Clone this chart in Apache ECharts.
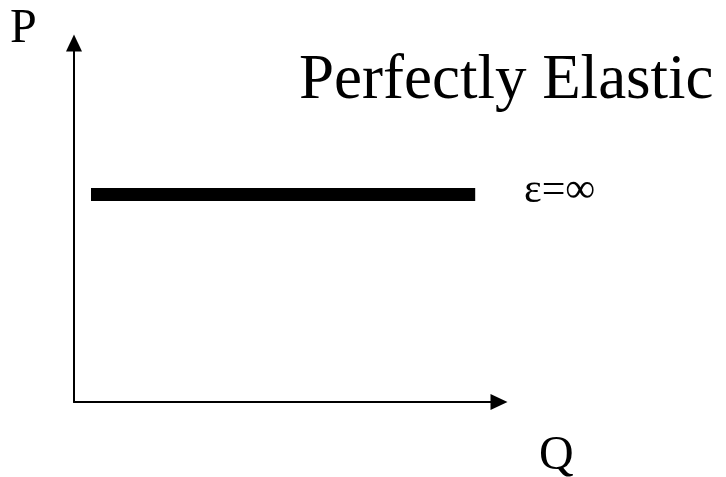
<!DOCTYPE html>
<html>
<head>
<meta charset="utf-8">
<script src="https://cdn.jsdelivr.net/npm/echarts@6/dist/echarts.min.js"></script>
<style>
  html, body { margin: 0; padding: 0; background: #fff; }
  #chart { width: 726px; height: 477px; }
</style>
</head>
<body>
<div id="chart"></div>
<script>
// Demand curve endpoints (quantity, price) for a perfectly elastic demand
const quantity = [0.4, 9.44];
const price = [5.78, 5.78];
const axisNames = { price: 'P', quantity: 'Q' };
const titleText = 'Perfectly Elastic';
const elasticityLabel = 'ε=∞';

const serif = '"Liberation Serif", "Times New Roman", "DejaVu Serif", serif';
const chart = echarts.init(document.getElementById('chart'), null, { renderer: 'canvas' });

const axisCommon = {
  type: 'value',
  min: 0,
  max: 10,
  axisLine: {
    show: true,
    lineStyle: { color: '#000', width: 2 },
    symbol: ['none', 'triangle'],
    symbolSize: [16, 17]
  },
  axisTick: { show: false },
  axisLabel: { show: false },
  splitLine: { show: false }
};

chart.setOption({
  animation: false,
  backgroundColor: '#fff',
  grid: { left: 74, right: 227, top: 43, bottom: 75 },
  xAxis: Object.assign({}, axisCommon),
  yAxis: Object.assign({}, axisCommon),
  series: [{
    type: 'line',
    data: quantity.map((q, i) => [q, price[i]]),
    symbol: 'none',
    lineStyle: { color: '#000', width: 13, cap: 'butt' }
  }],
  graphic: [
    { type: 'text', left: 10, top: 5, style: { text: axisNames.price, font: '48px ' + serif, fill: '#000' } },
    { type: 'text', left: 539, top: 432, style: { text: axisNames.quantity, font: '48px ' + serif, fill: '#000' } },
    { type: 'text', left: 299, top: 50, style: { text: titleText, font: '63px ' + serif, fill: '#000' } },
    { type: 'text', left: 524, top: 170, style: { text: elasticityLabel, font: '42px ' + serif, fill: '#000' } }
  ]
});
</script>
</body>
</html>
